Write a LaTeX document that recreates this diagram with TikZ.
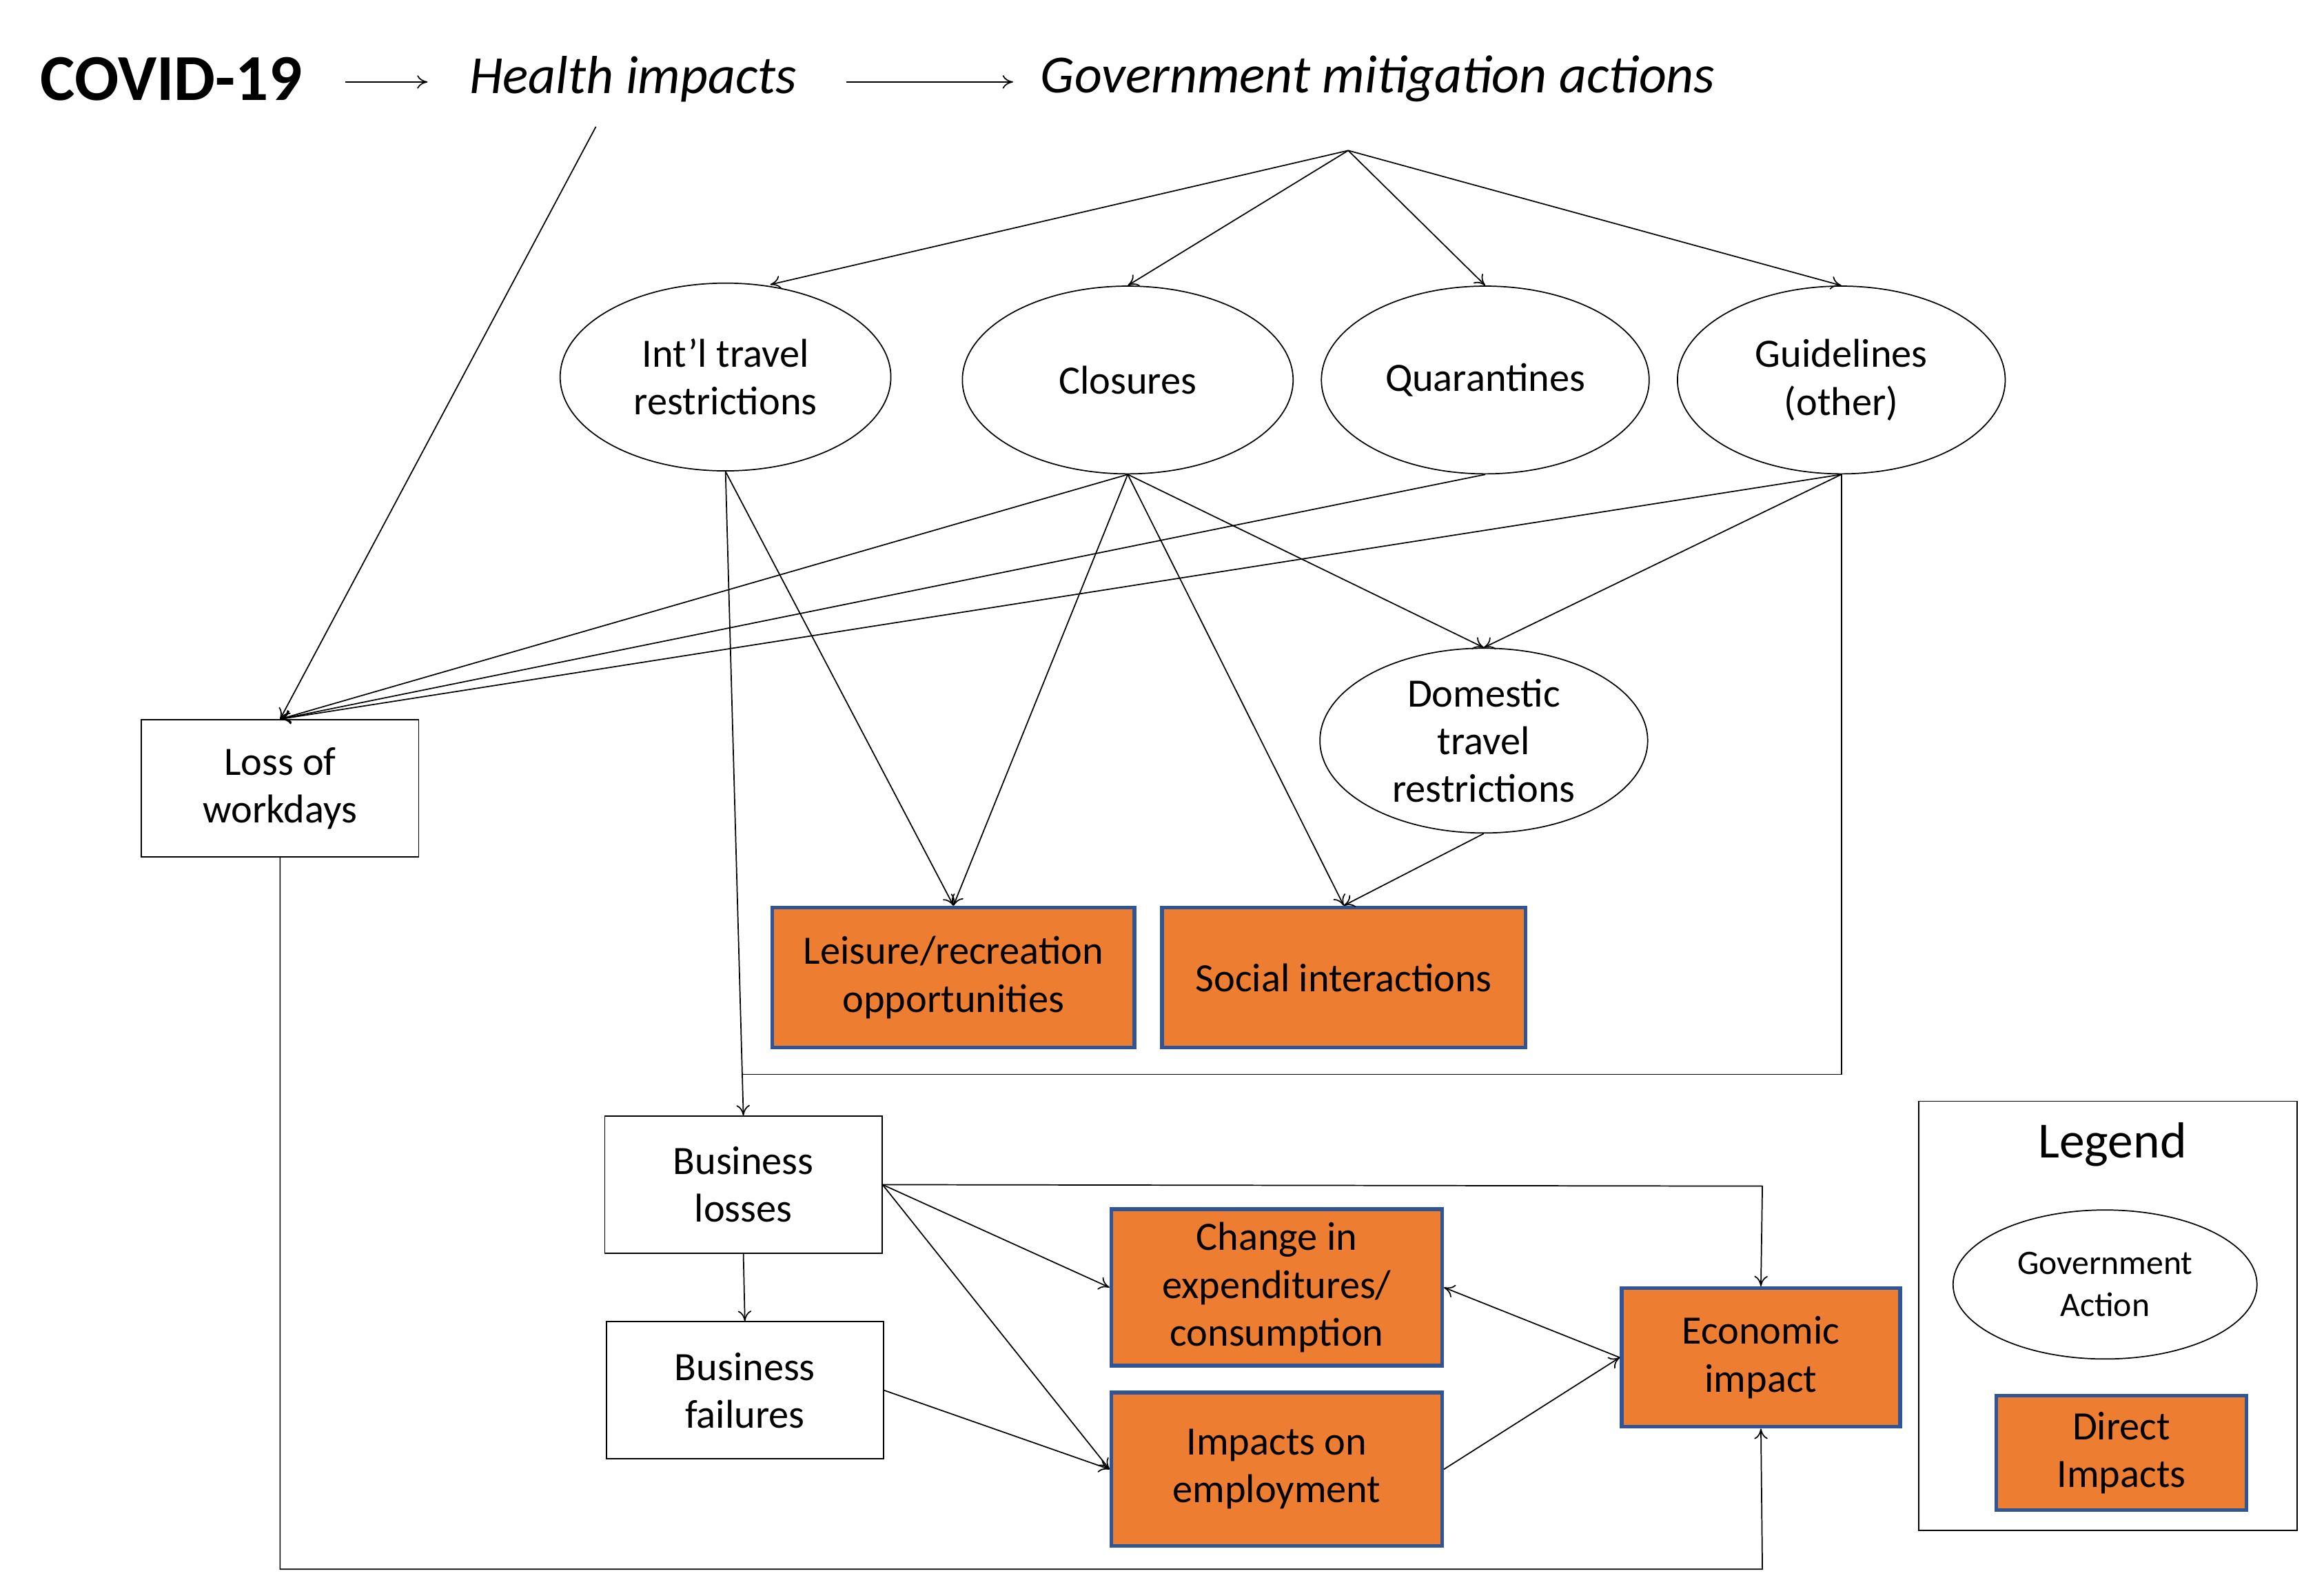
\documentclass[tikz,border=0pt]{standalone}
\usepackage{fontspec}
\setmainfont{Carlito}
\usetikzlibrary{shapes.geometric,arrows.meta}
\definecolor{org}{HTML}{ED7D31}
\definecolor{blu}{HTML}{2F5597}
\begin{document}
\begin{tikzpicture}[x=1pt,y=-1pt,
 every node/.style={font=\fontsize{27}{32}\selectfont},
 ell/.style={ellipse,draw,thick,minimum width=222pt,minimum height=126pt,align=center,inner sep=0pt},
 box/.style={draw,thick,align=center,inner sep=0pt},
 dir/.style={draw=blu,line width=2.5pt,fill=org,align=center,inner sep=0pt},
 arr/.style={-{To[length=7pt,width=9pt]},thick}]
\useasboundingbox (0,0) rectangle (1560,1066);
\node[font=\fontsize{44}{50}\selectfont\bfseries] (covid) at (115,53) {COVID-19};
\node[font=\fontsize{36}{42}\selectfont\itshape] (health) at (425,53) {Health impacts};
\node[font=\fontsize{36}{42}\selectfont\itshape,anchor=west] (gov) at (695,53) {Government mitigation actions};
\draw[arr] (232,55) -- (287,55);
\draw[arr] (568,55) -- (680,55);
\coordinate (hub) at (905,101);
\node[ell] (intl) at (487,253) {Int’l travel\\restrictions};
\node[ell] (clo) at (757,255) {Closures};
\node[ell,minimum width=220pt] (qua) at (997,255) {Quarantines};
\node[ell,minimum width=220pt] (gui) at (1236,255) {Guidelines\\(other)};
\node[ell,minimum width=220pt,minimum height=124pt] (dom) at (996,497) {Domestic\\travel\\restrictions};
\node[box,minimum width=186pt,minimum height=92pt] (loss) at (188,529) {Loss of\\workdays};
\node[dir,minimum width=243pt,minimum height=94pt] (leis) at (640,656) {Leisure/recreation\\opportunities};
\node[dir,minimum width=244pt,minimum height=94pt] (soc) at (902,656) {Social interactions};
\node[box,minimum width=186pt,minimum height=92pt] (bl) at (499,795) {Business\\losses};
\node[box,minimum width=186pt,minimum height=92pt] (bf) at (500,933) {Business\\failures};
\node[dir,minimum width=222pt,minimum height=105pt] (chg) at (857,864) {Change in\\expenditures/\\consumption};
\node[dir,minimum width=222pt,minimum height=103pt] (emp) at (857,986) {Impacts on\\employment};
\node[dir,minimum width=187pt,minimum height=93pt] (eco) at (1182,911) {Economic\\impact};
% legend
\node[box,minimum width=254pt,minimum height=288pt] (leg) at (1415,883) {};
\node[font=\fontsize{34}{40}\selectfont] (legt) at (1418,768) {Legend};
\node[ell,minimum width=204pt,minimum height=100pt,font=\fontsize{23}{28}\selectfont] (lge) at (1413,862) {Government\\Action};
\node[dir,minimum width=168pt,minimum height=77pt] (lgd) at (1424,975) {Direct\\Impacts};
% arrows
\draw[arr] (hub) -- (517,191);
\draw[arr] (hub) -- (clo.north);
\draw[arr] (hub) -- (qua.north);
\draw[arr] (hub) -- (gui.north);
\draw[arr] (400,85) -- (loss.north);
\draw[arr] (intl.south) -- (leis.north);
\draw[arr] (intl.south) -- (bl.north);
\draw[arr] (clo.south) -- (loss.north);
\draw[arr] (clo.south) -- (leis.north);
\draw[arr] (clo.south) -- (soc.north);
\draw[arr] (clo.south) -- (dom.north);
\draw[arr] (qua.south) -- (loss.north);
\draw[arr] (gui.south) -- (loss.north);
\draw[arr] (gui.south) -- (dom.north);
\draw[thick] (gui.south) -- (1236,721) -- (498,721);
\draw[arr] (dom.south) -- (soc.north);
\draw[arr] (loss.south) -- (188,1053) -- (1183,1053) -- (eco.south);
\draw[arr] (bl.south) -- (bf.north);
\draw[arr] (bl.east) -- (1183,796) -- (eco.north);
\draw[arr] (bl.east) -- (chg.west);
\draw[arr] (bl.east) -- (emp.west);
\draw[arr] (bf.east) -- (emp.west);
\draw[arr] (eco.west) -- (chg.east);
\draw[arr] (emp.east) -- (eco.west);
\end{tikzpicture}
\end{document}
